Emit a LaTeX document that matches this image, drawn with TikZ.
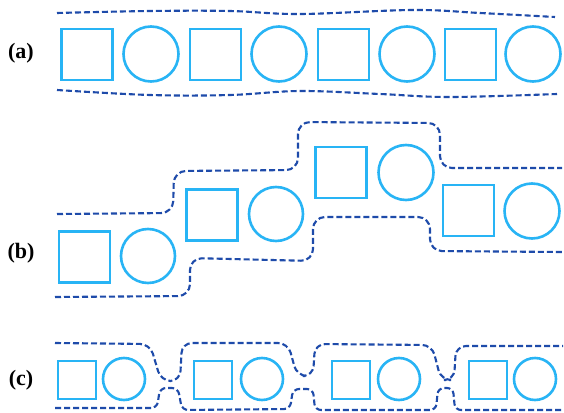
\documentclass[tikz,border=0pt]{standalone}
\usepackage{fontspec}
\setmainfont{Liberation Serif}
\definecolor{shapeblue}{RGB}{40,180,245}
\definecolor{outlineblue}{RGB}{30,75,170}
\tikzset{
  sq/.style={draw=shapeblue, line width=2.8pt, rectangle, inner sep=0pt, minimum width=#1, minimum height=#1},
  ci/.style={draw=shapeblue, line width=2.6pt, circle, inner sep=0pt, minimum size=#1},
  outl/.style={draw=outlineblue, line width=2.1pt, dash pattern=on 6pt off 3pt},
  lab/.style={font=\bfseries\fontsize{22}{24}\selectfont, inner sep=0pt}
}
\begin{document}
\begin{tikzpicture}[x=1pt,y=-1pt]
\useasboundingbox[fill=white] (0,0) rectangle (564,412);
% labels
\node[lab] (la) at (21,53) {(a)};
\node[lab] (lb) at (21,253) {(b)};
\node[lab] (lc) at (21,380) {(c)};
% (a)
\node[sq=51] (a1) at (87,54.5) {};
\node[ci=55] (a2) at (151,54) {};
\node[sq=51] (a3) at (215.5,54.5) {};
\node[ci=55] (a4) at (279,54) {};
\node[sq=51] (a5) at (343.5,54.5) {};
\node[ci=55] (a6) at (407,54) {};
\node[sq=51] (a7) at (470.5,54.5) {};
\node[ci=55] (a8) at (533,54) {};
\draw[outl] plot[smooth, tension=0.6] coordinates {(57,13) (150,11) (230,11) (300,14) (413,10) (480,13) (555,17)};
\draw[outl] plot[smooth, tension=0.6] coordinates {(57,90) (150,95) (230,95) (300,91) (380,94) (450,97) (557,94)};
% (b)
\node[sq=51] (b1) at (84.5,257) {};
\node[ci=54] (b2) at (148,256) {};
\node[sq=51] (b3) at (212,215) {};
\node[ci=54] (b4) at (276,214) {};
\node[sq=51] (b5) at (341,172.5) {};
\node[ci=55] (b6) at (406,172.5) {};
\node[sq=51] (b7) at (468.5,210.5) {};
\node[ci=55] (b8) at (532,211) {};
\draw[outl, rounded corners=12] (57,214) -- (173,213) -- (174,171) -- (298,170) -- (298,122) -- (440,123) -- (440,168) -- (562,168);
\draw[outl, rounded corners=12] (55,297) -- (190,296) -- (190,258) -- (313,261) -- (313,217) -- (430,217) -- (430,251) -- (562,252);
% (c)
\node[sq=38] (c1) at (77,380) {};
\node[ci=42] (c2) at (124,379) {};
\node[sq=38] (c3) at (213,380) {};
\node[ci=42] (c4) at (262,379) {};
\node[sq=38] (c5) at (351,380) {};
\node[ci=42] (c6) at (399,379) {};
\node[sq=38] (c7) at (488,380) {};
\node[ci=42] (c8) at (535,379) {};
\draw[outl, rounded corners=10] (55,343) -- (150,344) -- (161,381) -- (180,381) -- (182,343) -- (288,343) -- (297,376) -- (313,376) -- (315,344) -- (432,345) -- (441,380) -- (454,380) -- (456,346) -- (563,346);
\draw[outl, rounded corners=6] (55,408) -- (157,408) -- (160,388) -- (178,388) -- (182,410) -- (290,409) -- (293,389) -- (313,389) -- (315,410) -- (436,410) -- (438,388) -- (453,388) -- (455,410) -- (563,410);
\end{tikzpicture}
\end{document}
